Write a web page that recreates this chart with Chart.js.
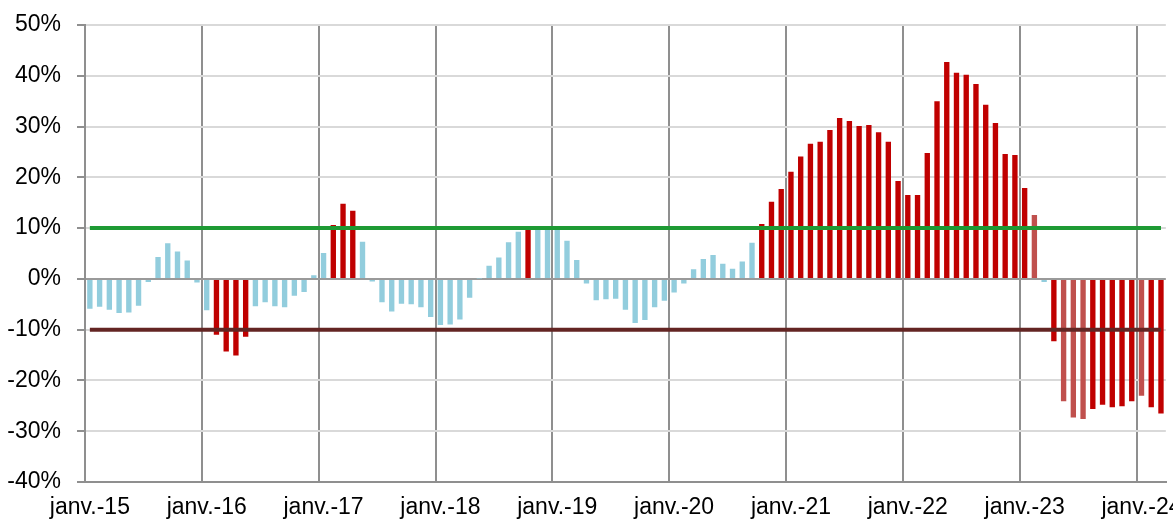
<!DOCTYPE html>
<html>
<head>
<meta charset="utf-8">
<script src="https://cdn.jsdelivr.net/npm/chart.js@4.4.1/dist/chart.umd.min.js"></script>
<style>
  html, body { margin: 0; padding: 0; background: #fff; overflow: hidden; }
  #wrap { width: 1173px; height: 530px; }
</style>
</head>
<body>
<div id="wrap"><canvas id="myChart"></canvas></div>
<script>
// months jan-15 .. mar-24
const monthNames = ['janv.', 'févr.', 'mars', 'avr.', 'mai', 'juin', 'juil.', 'août', 'sept.', 'oct.', 'nov.', 'déc.'];
const years = ['15', '16', '17', '18', '19', '20', '21', '22', '23', '24'];
const lastYearMonths = 3;

// year-on-year change, %
const values = [
  -5.9, -5.5, -6.1, -6.7, -6.6, -5.3, -0.6, 4.3, 7.0, 5.4, 3.6, -0.7,
  -6.2, -11.0, -14.3, -15.1, -11.4, -5.4, -4.6, -5.4, -5.6, -3.3, -2.6, 0.7,
  5.1, 10.6, 14.8, 13.4, 7.3, -0.5, -4.6, -6.4, -4.9, -5.0, -5.6, -7.5,
  -9.1, -9.0, -8.0, -3.7, 0.1, 2.6, 4.2, 7.2, 9.3, 10.2, 9.8, 9.8,
  9.7, 7.5, 3.7, -0.9, -4.2, -4.0, -3.9, -6.1, -8.7, -8.1, -5.6, -4.3,
  -2.7, -0.9, 1.9, 3.9, 4.7, 3.0, 2.0, 3.4, 7.1, 10.8, 15.2, 17.7,
  21.1, 24.1, 26.6, 27.0, 29.3, 31.7, 31.1, 30.1, 30.3, 28.9, 27.0, 19.3,
  16.5, 16.5, 24.8, 35.0, 42.7, 40.6, 40.2, 38.4, 34.3, 30.7, 24.6, 24.4,
  17.9, 12.6, -0.6, -12.3, -24.1, -27.3, -27.6, -25.6, -24.8, -25.3, -25.1, -24.1,
  -23.0, -25.3, -26.5
];

// months drawn in the lighter red
const lighterMonths = ['févr.-23', 'mai-23', 'juin-23', 'juil.-23', 'janv.-24'];

const upperLimit = 10;
const lowerLimit = -10;
const yTicks = [-40, -30, -20, -10, 0, 10, 20, 30, 40, 50];

const labels = [];
years.forEach((y, yi) => {
  const n = yi === years.length - 1 ? lastYearMonths : 12;
  for (let m = 0; m < n; m++) labels.push(monthNames[m] + '-' + y);
});

const blue = '#92cddd', red = '#c00000', lightRed = '#c0504d';
const barColors = values.map((v, i) => {
  if (Math.abs(v) < upperLimit) return blue;
  return lighterMonths.includes(labels[i]) ? lightRed : red;
});

const font = { family: '"Liberation Sans", Arial, sans-serif', size: 23 };
const axisGray = '#8f8f8f';

let ctx = document.querySelector('#myChart').getContext('2d');
let graphic = new Chart(ctx, {
  data: {
    labels: labels,
    datasets: [
      {
        type: 'line',
        data: labels.map(() => upperLimit),
        borderColor: '#1e9a34',
        borderWidth: 4,
        pointRadius: 0,
        order: 0
      },
      {
        type: 'line',
        data: labels.map(() => lowerLimit),
        borderColor: '#632523',
        borderWidth: 4,
        pointRadius: 0,
        order: 0
      },
      {
        type: 'bar',
        data: values,
        backgroundColor: barColors,
        borderWidth: 0,
        categoryPercentage: 1,
        barPercentage: 0.55,
        order: 1
      }
    ]
  },
  options: {
    responsive: true,
    maintainAspectRatio: false,
    animation: false,
    layout: { padding: { left: 0, right: 6, top: 25, bottom: 0 } },
    plugins: { legend: { display: false }, tooltip: { enabled: false } },
    scales: {
      x: {
        type: 'category',
        offset: true,
        afterFit: s => { s.height = 48; },
        grid: {
          offset: true,
          drawTicks: false,
          lineWidth: 2,
          color: c => (c.index !== undefined && c.index % 12 === 0) ? axisGray : 'rgba(0,0,0,0)'
        },
        border: { display: true, color: axisGray, width: 2 },
        ticks: {
          autoSkip: false,
          maxRotation: 0,
          padding: 12,
          color: '#000',
          font: font,
          callback: (v, i) => i % 12 === 0 ? labels[i] : ''
        }
      },
      y: {
        min: yTicks[0],
        max: yTicks[yTicks.length - 1],
        afterBuildTicks: s => { s.ticks = yTicks.map(v => ({ value: v })); },
        afterFit: s => { s.width = 85; s.paddingTop = 0; s.paddingBottom = 0; },
        grid: {
          lineWidth: 2,
          color: c => c.tick && c.tick.value === 0 ? '#9a9a9a' : '#d9d9d9',
          tickColor: axisGray,
          tickLength: 8
        },
        border: { display: true, color: axisGray, width: 2 },
        ticks: {
          padding: 16,
          color: '#000',
          font: font,
          callback: v => v + '%'
        }
      }
    }
  }
});
</script>
</body>
</html>
